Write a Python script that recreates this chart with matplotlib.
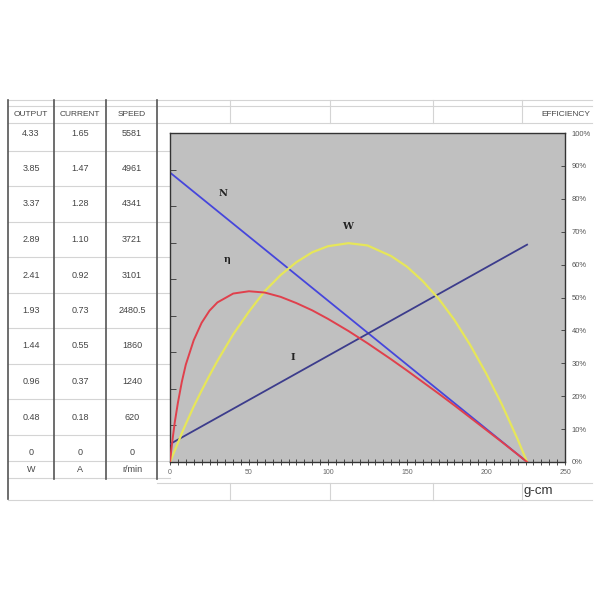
import numpy as np
import matplotlib.pyplot as plt

# table values (left side of the sheet)
headers = ['OUTPUT', 'CURRENT', 'SPEED']
output_w = ['4.33', '3.85', '3.37', '2.89', '2.41', '1.93', '1.44', '0.96', '0.48', '0']
current_a = ['1.65', '1.47', '1.28', '1.10', '0.92', '0.73', '0.55', '0.37', '0.18', '0']
speed_rpm = ['5581', '4961', '4341', '3721', '3101', '2480.5', '1860', '1240', '620', '0']
units = ['W', 'A', 'r/min']

# straight lines, torque in g-cm
torque_line = [0, 226]
speed_n = [4910, 0]
current_i = [0.09, 1.09]

# curves
torque_c = [0, 1, 2, 3, 5, 7.5, 10, 15, 20, 25, 30, 40, 50, 60, 70, 80, 90, 100,
            113, 125, 140, 150, 160, 170, 180, 190, 200, 210, 220, 226]
eff_pct = [0, 4.4, 8.3, 12, 18, 24.4, 29.6, 37, 42.3, 46, 48.5, 51.2, 51.9, 51.5, 50.2,
           48.3, 46.1, 43.5, 39.8, 36.1, 31.2, 27.8, 24.3, 20.8, 17.2, 13.5, 9.8, 6.1, 2.3, 0]
power_w = [0, 0.05, 0.10, 0.15, 0.25, 0.38, 0.50, 0.73, 0.94, 1.14, 1.33, 1.68, 1.98, 2.25,
           2.46, 2.63, 2.76, 2.84, 2.88, 2.85, 2.71, 2.57, 2.38, 2.15, 1.87, 1.54, 1.17,
           0.76, 0.30, 0]

plt.rcParams['font.family'] = ['Liberation Sans', 'DejaVu Sans']

fig = plt.figure(figsize=(6, 6), dpi=100)

# sheet background in pixel coordinates
bg = fig.add_axes([0, 0, 1, 1])
bg.set_xlim(0, 600)
bg.set_ylim(600, 0)
bg.axis('off')

grid_c = '#d4d4d4'
for y in [100, 106, 123, 500]:
    bg.plot([8, 592], [y, y], color=grid_c, lw=0.8)
for y in [150.5, 186, 221.5, 257, 292.5, 328, 363.5, 399, 434.5, 461, 478]:
    bg.plot([8, 170], [y, y], color=grid_c, lw=0.8)
bg.plot([157, 592], [483, 483], color=grid_c, lw=0.8)
for x in [230, 330, 433, 522]:
    bg.plot([x, x], [100, 123], color=grid_c, lw=0.8)
    bg.plot([x, x], [483, 500], color=grid_c, lw=0.8)
bg.plot([8, 8], [100, 499], color='#555555', lw=1.2)
for x in [54, 106, 157]:
    bg.plot([x, x], [100, 479], color='#555555', lw=1.2)

txt_c = '#444444'
col_x = [31, 80, 132]
for x, h in zip(col_x, headers):
    bg.text(x, 115, h, ha='center', va='center', fontsize=6, color=txt_c)
for i in range(len(output_w)):
    y = 133 + i * 35.5
    for x, col in zip(col_x, [output_w, current_a, speed_rpm]):
        bg.text(x, y, col[i], ha='center', va='center', fontsize=6.5, color=txt_c)
for x, u in zip(col_x, units):
    bg.text(x, 470, u, ha='center', va='center', fontsize=6.5, color=txt_c)
bg.text(590, 115, 'EFFICIENCY', ha='right', va='center', fontsize=6, color=txt_c)
bg.text(523, 491, 'g-cm', ha='left', va='center', fontsize=9.5, color='#333333')

# chart
ax = fig.add_axes([170 / 600, (600 - 462) / 600, 395 / 600, 329 / 600])
ax.set_facecolor('#c0c0c0')
for sp in ax.spines.values():
    sp.set_color('#333333')
    sp.set_linewidth(1.0)
ax.set_xlim(0, 250)
ax.set_ylim(0, 5581)
ax.set_xticks(np.arange(0, 251, 50))
ax.set_xticks(np.arange(0, 251, 5), minor=True)
ax.tick_params(axis='x', which='both', direction='inout', length=4, width=0.6,
               labelsize=5, colors='#333333', labelcolor='#666666', pad=3)
ax.set_yticks(np.linspace(0, 5581, 10))
ax.tick_params(axis='y', direction='in', length=4, width=0.6, labelleft=False,
               colors='#333333')

ax_i = ax.twinx()
ax_i.set_ylim(0, 1.65)
ax_i.set_yticks([])
ax_w = ax.twinx()
ax_w.set_ylim(0, 4.33)
ax_w.set_yticks([])
ax_e = ax.twinx()
ax_e.set_ylim(0, 100)
ax_e.set_yticks(np.arange(0, 101, 10))
ax_e.set_yticklabels(['%d%%' % v for v in range(0, 101, 10)])
ax_e.tick_params(axis='y', direction='in', length=3, width=0.6, labelsize=5.5,
                 colors='#333333', labelcolor='#555555', pad=5)
for a in [ax_i, ax_w, ax_e]:
    for sp in a.spines.values():
        sp.set_visible(False)

ax_i.plot(torque_line, current_i, color='#3c3c8c', lw=1.3)
ax_w.plot(torque_c, power_w, color='#e6e65a', lw=1.6)
ax.plot(torque_line, speed_n, color='#4646dc', lw=1.3)
ax_e.plot(torque_c, eff_pct, color='#e0404c', lw=1.4)

lab = dict(fontsize=7, family='DejaVu Serif', fontweight='bold', color='#222222',
           ha='center', va='center')
ax_e.text(33.5, 81.5, 'N', **lab)
ax_e.text(36, 61.7, 'η', **lab)
ax_e.text(112.7, 71.7, 'W', **lab)
ax_e.text(78, 31.9, 'I', **lab)

fig.savefig('out.png', dpi=100)
